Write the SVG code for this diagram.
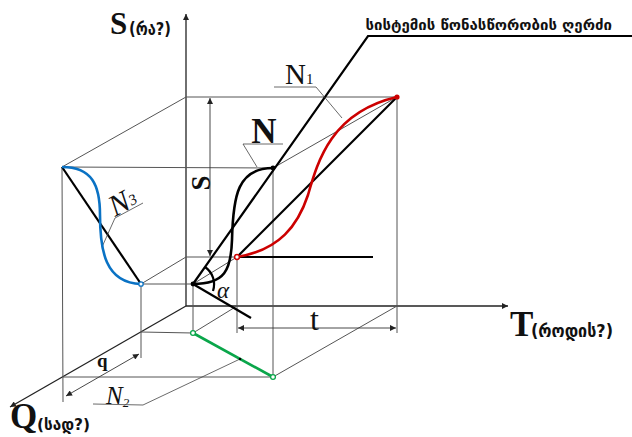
<svg xmlns="http://www.w3.org/2000/svg" width="632" height="437" viewBox="0 0 632 437">
<defs>
<marker id="ah" viewBox="0 0 10 10" refX="10" refY="5" markerWidth="8" markerHeight="6" markerUnits="userSpaceOnUse" orient="auto-start-reverse">
<path d="M0,0 L10,5 L0,10 z" fill="#222"/>
</marker>
<style>
.thin{stroke:#555;stroke-width:1;fill:none}
.axis{stroke:#222;stroke-width:1.3;fill:none}
.thick{stroke:#000;stroke-width:2.2;fill:none}
.dim{stroke:#333;stroke-width:0.9;fill:none}
.lead{stroke:#444;stroke-width:0.8;fill:none}
.ser{font-family:"Liberation Serif","DejaVu Serif",serif;fill:#111}
.geo{font-family:"DejaVu Sans",sans-serif;font-weight:bold;fill:#111}
</style>
</defs>
<g id="axes">
<line class="axis" x1="186" y1="306" x2="186" y2="14" marker-end="url(#ah)"/>
<line class="axis" x1="186" y1="306" x2="508" y2="306" marker-end="url(#ah)"/>
<line class="axis" x1="186" y1="306" x2="10" y2="407" marker-end="url(#ah)"/>
</g>
<g id="connectors">
<line class="thin" x1="186" y1="97" x2="397" y2="97"/>
<line class="thin" x1="186" y1="97" x2="62" y2="167"/>
<line class="thin" x1="397" y1="97" x2="273" y2="168"/>
<line class="thin" x1="62" y1="167" x2="273" y2="168"/>
<line class="thin" x1="62" y1="167" x2="63" y2="402"/>
<line class="thin" x1="273" y1="168" x2="273" y2="377"/>
<line class="thin" x1="63" y1="377" x2="273" y2="377"/>
<line class="thin" x1="397" y1="97" x2="397" y2="333"/>
<line class="thin" x1="397" y1="306" x2="273" y2="377"/>
<line class="thin" x1="186" y1="257" x2="237" y2="257"/>
<line class="thin" x1="141" y1="284" x2="193" y2="284"/>
<line class="thin" x1="141" y1="284" x2="186" y2="257"/>
<line class="thin" x1="193" y1="284" x2="237" y2="257"/>
<line class="thin" x1="141" y1="284" x2="141" y2="358"/>
<line class="thin" x1="193" y1="284" x2="193" y2="333"/>
<line class="thin" x1="237" y1="257" x2="237" y2="333"/>
<line class="thin" x1="141" y1="332" x2="193" y2="333"/>
<line class="thin" x1="193" y1="333" x2="237" y2="306"/>
<polyline class="thick" points="193,284 368,36 632,36"/>
<line class="thick" x1="237" y1="257" x2="397" y2="97"/>
<line class="thick" x1="193" y1="284" x2="251" y2="318"/>
<line class="thick" x1="62" y1="167" x2="141" y2="284"/>
<line class="thick" x1="237" y1="257" x2="373" y2="257"/>
<path class="thick" d="M205,267 A21,21 0 0,1 213,291"/>
<line class="dim" x1="210" y1="256" x2="210" y2="98" marker-start="url(#ah)" marker-end="url(#ah)"/>
<line class="dim" x1="238" y1="328" x2="396" y2="328" marker-start="url(#ah)" marker-end="url(#ah)"/>
<line class="dim" x1="66" y1="396" x2="139" y2="354" marker-start="url(#ah)" marker-end="url(#ah)"/>
<polyline class="lead" points="283,144 243,144 257,167"/>
<polyline class="lead" points="274,87 316,87 342,118"/>
<polyline class="lead" points="143,203 115,218 102,247"/>
<polyline class="lead" points="93,404 143,405 240,359"/>
</g>
<g id="curve-N">
<path d="M193,284 C225,284 231,270 232,240 C233,195 238,168 273,168" fill="none" stroke="#000" stroke-width="2.6"/>
</g>
<g id="curve-N1">
<path d="M237,257 C280,250 298,225 308,195 C318,160 332,112 397,97" fill="none" stroke="#cc0000" stroke-width="2.6"/>
</g>
<g id="curve-N3">
<path d="M62,167 C92,167 100,185 100,215 C100,250 105,283 141,284" fill="none" stroke="#0a72c4" stroke-width="2.6"/>
</g>
<g id="line-N2">
<line x1="193" y1="333" x2="273" y2="377" stroke="#0aa64a" stroke-width="2.6"/>
</g>
<g id="dots">
<circle cx="397" cy="97" r="2.6" fill="#cc0000"/>
<circle cx="237" cy="257" r="2.4" fill="#fff" stroke="#cc0000" stroke-width="1.5"/>
<circle cx="141" cy="284" r="2.2" fill="#fff" stroke="#0a72c4" stroke-width="1.3"/>
<circle cx="193" cy="333" r="2.4" fill="#fff" stroke="#0aa64a" stroke-width="1.3"/>
<circle cx="273" cy="377" r="2.4" fill="#fff" stroke="#0aa64a" stroke-width="1.3"/>
<circle cx="193" cy="284" r="2.4" fill="#000"/>
<circle cx="273" cy="168" r="2.4" fill="#000"/>
<circle cx="240" cy="359" r="1.3" fill="#000"/>
</g>
<g id="labels">
<text class="ser" x="110" y="34" font-size="31" font-weight="bold">S</text>
<text class="geo" x="129" y="35" font-size="17" textLength="42" lengthAdjust="spacingAndGlyphs">(რა?)</text>
<text class="ser" x="510" y="336" font-size="35" font-weight="bold">T</text>
<text class="geo" x="531" y="337" font-size="17" textLength="82" lengthAdjust="spacingAndGlyphs">(როდის?)</text>
<text class="ser" x="10" y="428" font-size="35" font-weight="bold">Q</text>
<text class="geo" x="37" y="430" font-size="16" textLength="53" lengthAdjust="spacingAndGlyphs">(სად?)</text>
<text class="geo" x="612" y="30" font-size="15" text-anchor="end">სისტემის წონასწორობის ღერძი</text>
<text class="ser" font-size="27" font-weight="bold" transform="translate(210,183) rotate(-90)" text-anchor="middle">S</text>
<text class="ser" x="264" y="143" font-size="35" font-weight="bold" text-anchor="middle">N</text>
<text class="ser" x="285" y="84" font-size="29">N<tspan font-size="15" dy="0">1</tspan></text>
<text class="ser" font-size="30" font-style="italic" transform="translate(115,217) rotate(-28)">N<tspan font-size="15" dy="-2">3</tspan></text>
<text class="ser" x="106" y="404" font-size="25" font-style="italic">N<tspan font-size="13" dy="3">2</tspan></text>
<text class="ser" x="97" y="367" font-size="19" font-weight="bold">q</text>
<text class="ser" x="310" y="330" font-size="32">t</text>
<text class="ser" x="217" y="298" font-size="23" font-style="italic">α</text>
</g>
</svg>
